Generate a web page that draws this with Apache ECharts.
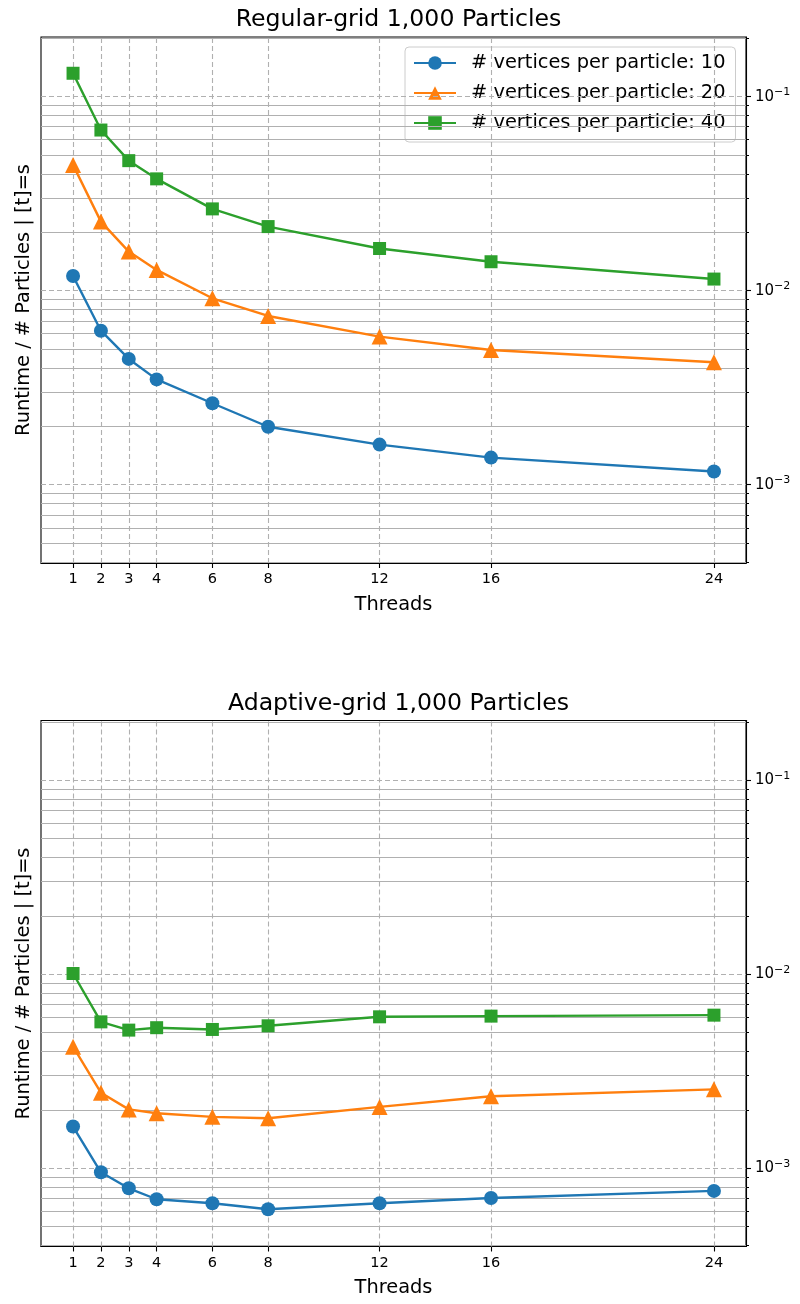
<!DOCTYPE html>
<html><head><meta charset="utf-8">
<script src="https://cdn.jsdelivr.net/npm/echarts@6/dist/echarts.min.js"></script>
<style>html,body{margin:0;padding:0;background:#fff}#c{width:800px;height:1304px}</style>
</head><body><div id="c"></div>
<script>
const threads = [1, 2, 3, 4, 6, 8, 12, 16, 24];
const seriesNames = ['# vertices per particle: 10', '# vertices per particle: 20', '# vertices per particle: 40'];
const titles = ['Regular-grid 1,000 Particles', 'Adaptive-grid 1,000 Particles'];
const regular10 = [0.0119, 0.00622, 0.00445, 0.00349, 0.00263, 0.00199, 0.00161, 0.00138, 0.00117];
const regular20 = [0.0445, 0.0227, 0.0159, 0.0128, 0.00914, 0.00741, 0.00580, 0.00495, 0.00428];
const regular40 = [0.132, 0.0673, 0.0468, 0.0377, 0.0264, 0.0214, 0.0165, 0.0141, 0.01148];
const adaptive10 = [0.00164, 0.000953, 0.000788, 0.000692, 0.000660, 0.000615, 0.000660, 0.000702, 0.000764];
const adaptive20 = [0.00423, 0.00245, 0.00201, 0.00192, 0.00184, 0.00181, 0.00207, 0.00235, 0.00255];
const adaptive40 = [0.01008, 0.00568, 0.00515, 0.00530, 0.00519, 0.00542, 0.00603, 0.00608, 0.00615];
const majorTicks = [0.001, 0.01, 0.1];
const majorExponents = ['\u22123', '\u22122', '\u22121'];
const minorTicks = [0.0004, 0.0005, 0.0006, 0.0007, 0.0008, 0.0009,
  0.002, 0.003, 0.004, 0.005, 0.006, 0.007, 0.008, 0.009,
  0.02, 0.03, 0.04, 0.05, 0.06, 0.07, 0.08, 0.09, 0.2];
const xMin = -0.15, xMax = 25.15;
const yMin = 3.95e-4, yMax = 0.203;

const colors = ['#1f77b4', '#ff7f0e', '#2ca02c'];
const symbols = ['circle', 'triangle', 'rect'];
const symbolSizes = [14, 16, 13];
const FONT = 'DejaVu Sans';
const gridTops = [37, 720.5];
const gridH = 526;

const grids = [], xAxes = [], yAxes = [], series = [], titleOpts = [];
const panels = [[regular10, regular20, regular40], [adaptive10, adaptive20, adaptive40]];

panels.forEach((data, p) => {
  grids.push({left: 41, right: 54, top: gridTops[p], height: gridH, show: true,
    borderColor: '#000', borderWidth: 1.1, backgroundColor: 'transparent'});
  titleOpts.push({text: titles[p], left: 393.5, textAlign: 'center', top: gridTops[p] - 34,
    textStyle: {fontFamily: FONT, fontSize: 23.6, fontWeight: 'normal', color: '#000'}});
  xAxes.push({type: 'value', gridIndex: p, min: xMin, max: xMax, position: 'bottom',
    name: 'Threads', nameLocation: 'middle', nameGap: 32,
    nameTextStyle: {fontFamily: FONT, fontSize: 19.4, color: '#000'},
    axisLine: {show: true, onZero: false, lineStyle: {color: '#000', width: 1.1}},
    axisTick: {show: true, length: 5, lineStyle: {color: '#000', width: 1.1}, customValues: threads},
    axisLabel: {show: true, margin: 9, fontFamily: FONT, fontSize: 14.5, color: '#000', customValues: threads},
    splitLine: {show: false}});
  const yb = p * 3;
  yAxes.push({type: 'log', gridIndex: p, min: yMin, max: yMax, position: 'right',
    axisLine: {show: true, onZero: false, lineStyle: {color: '#000', width: 1.1}},
    axisTick: {show: true, length: 5, lineStyle: {color: '#000', width: 1.1}, customValues: majorTicks},
    axisLabel: {show: true, margin: 9, fontFamily: FONT, color: '#000', customValues: majorTicks,
      formatter: v => {
        const i = majorTicks.findIndex(t => Math.abs(Math.log10(t) - Math.log10(v)) < 1e-6);
        return i >= 0 ? '{b|10}{s|' + majorExponents[i] + '}' : '';
      },
      rich: {
        b: {fontFamily: FONT, fontSize: 15, color: '#000', lineHeight: 20},
        s: {fontFamily: FONT, fontSize: 11, color: '#000', verticalAlign: 'top', lineHeight: 12}
      }},
    splitLine: {show: false}});
  yAxes.push({type: 'log', gridIndex: p, min: yMin, max: yMax, position: 'right',
    axisLine: {show: false, onZero: false},
    axisTick: {show: true, length: 3, lineStyle: {color: '#000', width: 1}, customValues: minorTicks},
    axisLabel: {show: false}, splitLine: {show: false}});
  yAxes.push({type: 'log', gridIndex: p, min: yMin, max: yMax, position: 'left',
    name: 'Runtime / # Particles | [t]=s', nameLocation: 'middle', nameGap: 8, nameRotate: 90,
    nameTextStyle: {fontFamily: FONT, fontSize: 19.4, color: '#000'},
    axisLine: {show: false, onZero: false}, axisTick: {show: false}, axisLabel: {show: false}, splitLine: {show: false}});

  const mlData = [];
  const minorStyle = {type: 'solid', color: '#b0b0b0', width: 1.2};
  const majorStyle = {type: [5, 3], color: '#b0b0b0', width: 1.1};
  minorTicks.forEach(v => mlData.push([{coord: [xMin, v], lineStyle: minorStyle}, {coord: [xMax, v]}]));
  majorTicks.forEach(v => mlData.push([{coord: [xMin, v], lineStyle: majorStyle}, {coord: [xMax, v]}]));
  threads.forEach(v => mlData.push([{coord: [v, yMin], lineStyle: majorStyle}, {coord: [v, yMax]}]));
  series.push({type: 'line', name: 'grid' + p, xAxisIndex: p, yAxisIndex: yb, data: [], z: 1,
    silent: true,
    markLine: {silent: true, precision: 10, symbol: ['none', 'none'], label: {show: false},
      emphasis: {disabled: true}, animation: false, data: mlData}});

  data.forEach((vals, k) => {
    series.push({type: 'line', name: seriesNames[k], xAxisIndex: p, yAxisIndex: yb, z: 5 + k,
      data: threads.map((t, i) => [t, vals[i]]),
      symbol: symbols[k], symbolSize: symbolSizes[k], showSymbol: true,
      lineStyle: {color: colors[k], width: 2.4},
      itemStyle: {color: colors[k]}, emphasis: {disabled: true}});
  });
});

const chart = echarts.init(document.getElementById('c'), null, {renderer: 'canvas'});
chart.setOption({
  animation: false,
  backgroundColor: '#fff',
  title: titleOpts,
  grid: grids, xAxis: xAxes, yAxis: yAxes, series: series,
  legend: {data: seriesNames, orient: 'vertical', left: 405, top: 47,
    itemWidth: 42, itemHeight: 17, itemGap: 8,
    padding: [5, 10, 8, 8],
    backgroundColor: 'rgba(255,255,255,0.85)', borderColor: '#cccccc', borderWidth: 1, borderRadius: 4,
    textStyle: {fontFamily: FONT, fontSize: 19.4, color: '#000', padding: [0, 0, 0, 10], lineHeight: 22},
    selectedMode: false}
});
</script></body></html>
